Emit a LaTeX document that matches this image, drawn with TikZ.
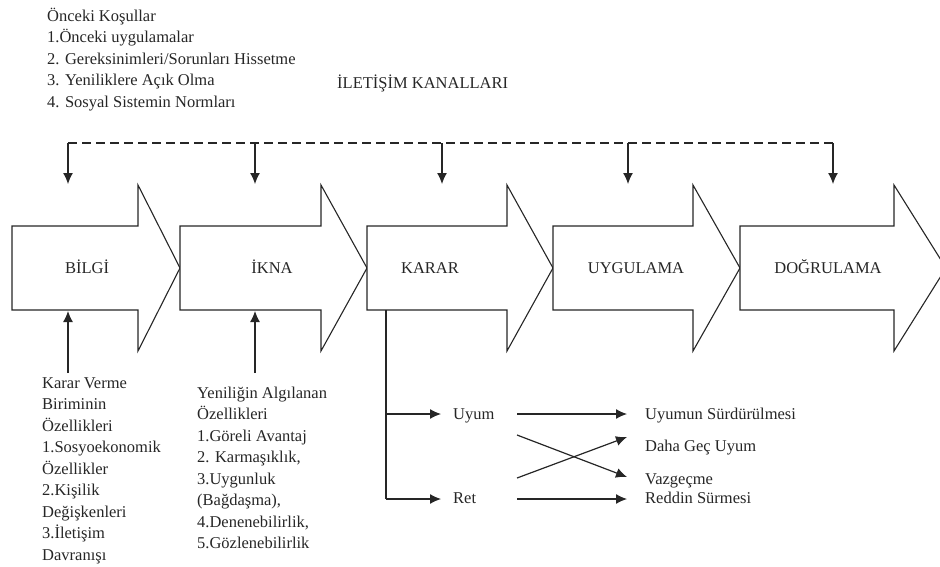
\documentclass[tikz,border=0pt]{standalone}
\usepackage{fontspec}
\setmainfont{Liberation Serif}
\usetikzlibrary{arrows.meta}
% stage arrow: #1 left edge, #2 start of the head, #3 tip
\newcommand\stagearrow[3]{%
  \draw[flow] (#1,226) -- (#2,226) -- (#2,185) -- (#3,268) -- (#2,351)
    -- (#2,310) -- (#1,310) -- cycle;}
\begin{document}
\begin{tikzpicture}[x=1pt,y=-1pt,
  flow/.style={draw=black!85,line width=1.1pt,fill=white},
  lbl/.style={font=\fontsize{16.5}{21.5}\selectfont,inner sep=0pt,text=black!85},
  note/.style={lbl,align=left,anchor=base west},
  stagelabel/.style={lbl,anchor=base},
  conn/.style={draw=black!85,line width=1.2pt,-{Latex[length=11pt,width=10pt]}},
  channel/.style={draw=black!85,line width=1.2pt,dash pattern=on 9pt off 5pt},
  ]
\useasboundingbox (0,0) rectangle (940,566);
\clip (0,0) rectangle (940,566);

% top texts (multi-line notes are placed by the baseline of their last line)
\node[note] (prior) at (47,107) {Önceki Koşullar\\1.Önceki uygulamalar\\2. Gereksinimleri/Sorunları Hissetme\\3. Yeniliklere Açık Olma\\4. Sosyal Sistemin Normları};
\node[lbl,anchor=base west] (channels) at (337,88) {İLETİŞİM KANALLARI};

% five stages
\stagearrow{12}{138}{180}
\stagearrow{180}{321}{367}
\stagearrow{367}{507}{553}
\stagearrow{553}{693}{740}
\stagearrow{740}{894}{946}
\node[stagelabel] (bilgi) at (87,273) {BİLGİ};
\node[stagelabel] (ikna) at (272,273) {İKNA};
\node[stagelabel] (karar) at (430,273) {KARAR};
\node[stagelabel] (uygulama) at (636,273) {UYGULAMA};
\node[stagelabel] (dogrulama) at (828,273) {DOĞRULAMA};

% communication channels feeding every stage
\coordinate (c1) at (68,143);
\coordinate (c2) at (255,143);
\coordinate (c3) at (442,143);
\coordinate (c4) at (628,143);
\coordinate (c5) at (833,143);
\coordinate (t1) at (68,184);
\coordinate (t2) at (255,184);
\coordinate (t3) at (442,184);
\coordinate (t4) at (628,184);
\coordinate (t5) at (833,184);
\draw[channel] (c1) -- (c5);
\foreach \i in {1,...,5} \draw[conn] (c\i) -- (t\i);

% inputs from below
\node[note] (unit) at (42,560) {Karar Verme\\Biriminin\\Özellikleri\\1.Sosyoekonomik\\Özellikler\\2.Kişilik\\Değişkenleri\\3.İletişim\\Davranışı};
\node[note] (traits) at (197,548.5) {Yeniliğin Algılanan\\Özellikleri\\1.Göreli Avantaj\\2. Karmaşıklık,\\3.Uygunluk\\(Bağdaşma),\\4.Denenebilirlik,\\5.Gözlenebilirlik};
\coordinate (u1) at (68,373);
\coordinate (u2) at (255,373);
\coordinate (b1) at (68,311);
\coordinate (b2) at (255,311);
\draw[conn] (u1) -- (b1);
\draw[conn] (u2) -- (b2);

% decision branches
\coordinate (k0) at (386,310);
\coordinate (k1) at (386,414);
\coordinate (k2) at (386,499);
\node[note] (uyum) at (453,419) {Uyum};
\node[note] (ret) at (453,503) {Ret};
\draw[draw=black!85,line width=1.2pt] (k0) -- (k2);
\draw[conn] (k1) -- (441,414) coordinate (a1);
\draw[conn] (k2) -- (441,499) coordinate (a2);

\node[note] (keep) at (645,419) {Uyumun Sürdürülmesi};
\node[note] (later) at (645,451) {Daha Geç Uyum};
\node[note] (quit) at (645,484) {Vazgeçme};
\node[note] (reject) at (645,503) {Reddin Sürmesi};
\coordinate (s1) at (517,414);
\coordinate (s2) at (517,435);
\coordinate (s3) at (517,478);
\coordinate (s4) at (517,499);
\coordinate (e1) at (627,414);
\coordinate (e2) at (627,437);
\coordinate (e3) at (627,477);
\coordinate (e4) at (627,499);
\draw[conn] (s1) -- (e1);
\draw[conn] (s2) -- (e3);
\draw[conn] (s3) -- (e2);
\draw[conn] (s4) -- (e4);
\end{tikzpicture}
\end{document}
